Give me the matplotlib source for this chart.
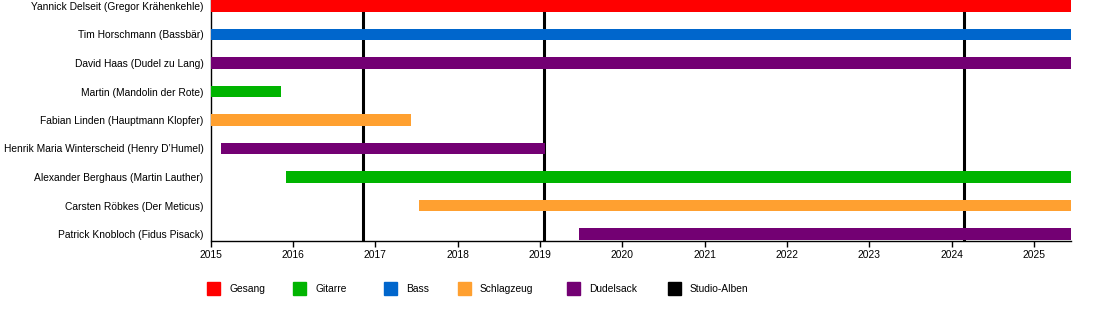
import matplotlib
matplotlib.use("Agg")
import matplotlib.pyplot as plt
from matplotlib.patches import Rectangle

plt.rcParams['font.family'] = ['Liberation Sans', 'DejaVu Sans']

members = [
    "Yannick Delseit (Gregor Krähenkehle)",
    "Tim Horschmann (Bassbär)",
    "David Haas (Dudel zu Lang)",
    "Martin (Mandolin der Rote)",
    "Fabian Linden (Hauptmann Klopfer)",
    "Henrik Maria Winterscheid (Henry D’Humel)",
    "Alexander Berghaus (Martin Lauther)",
    "Carsten Röbkes (Der Meticus)",
    "Patrick Knobloch (Fidus Pisack)",
]
starts = [2015.0, 2015.0, 2015.0, 2015.0, 2015.0, 2015.13, 2015.92, 2017.53, 2019.47]
ends = [2025.45, 2025.45, 2025.45, 2015.86, 2017.44, 2019.06, 2025.45, 2025.45, 2025.45]
roles = ["Gesang", "Bass", "Dudelsack", "Gitarre", "Schlagzeug", "Dudelsack",
         "Gitarre", "Schlagzeug", "Dudelsack"]
albums = [2016.85, 2019.05, 2024.15]
years = list(range(2015, 2026))

legend_labels = ["Gesang", "Gitarre", "Bass", "Schlagzeug", "Dudelsack", "Studio-Alben"]
colors = {
    "Gesang": "#FF0000",
    "Gitarre": "#00B400",
    "Bass": "#0066CC",
    "Schlagzeug": "#FFA030",
    "Dudelsack": "#730073",
    "Studio-Alben": "#000000",
}

W, H = 1100, 330
FS = 7.4
fig = plt.figure(figsize=(W / 100, H / 100), dpi=100)
ax = fig.add_axes([210.5 / W, 1 - 240.5 / H, (1071 - 210.5) / W, 240.5 / H])

sp_px = 28.5
for i, (s, e, r) in enumerate(zip(starts, ends, roles)):
    ax.barh(i, e - s, left=s, height=11.8 / sp_px, color=colors[r], zorder=3)

for a in albums:
    ax.axvline(a, color="black", lw=2.2, zorder=2)

ax.set_xlim(2015, 2025.45)
ax.set_ylim(8 + 6.5 / sp_px, -6 / sp_px)
ax.set_yticks(range(len(members)))
ax.set_yticklabels(members, fontsize=FS)
ax.tick_params(axis='y', length=0, pad=5)
ax.set_xticks(years)
ax.set_xticklabels([str(y) for y in years], fontsize=FS)
ax.tick_params(axis='x', length=4, width=1, pad=3)
for sp in ["top", "right"]:
    ax.spines[sp].set_visible(False)
ax.spines["left"].set_linewidth(1)
ax.spines["bottom"].set_linewidth(1)

# legend
sw_x = [207, 293, 384, 458, 567, 668]
for x, lab in zip(sw_x, legend_labels):
    fig.patches.append(Rectangle((x / W, 1 - 295 / H), 13 / W, 13 / H,
                                 transform=fig.transFigure, color=colors[lab]))
    fig.text((x + 22) / W, 1 - 289.5 / H, lab, fontsize=FS, va="center", ha="left")

fig.savefig("out.png", dpi=100)
